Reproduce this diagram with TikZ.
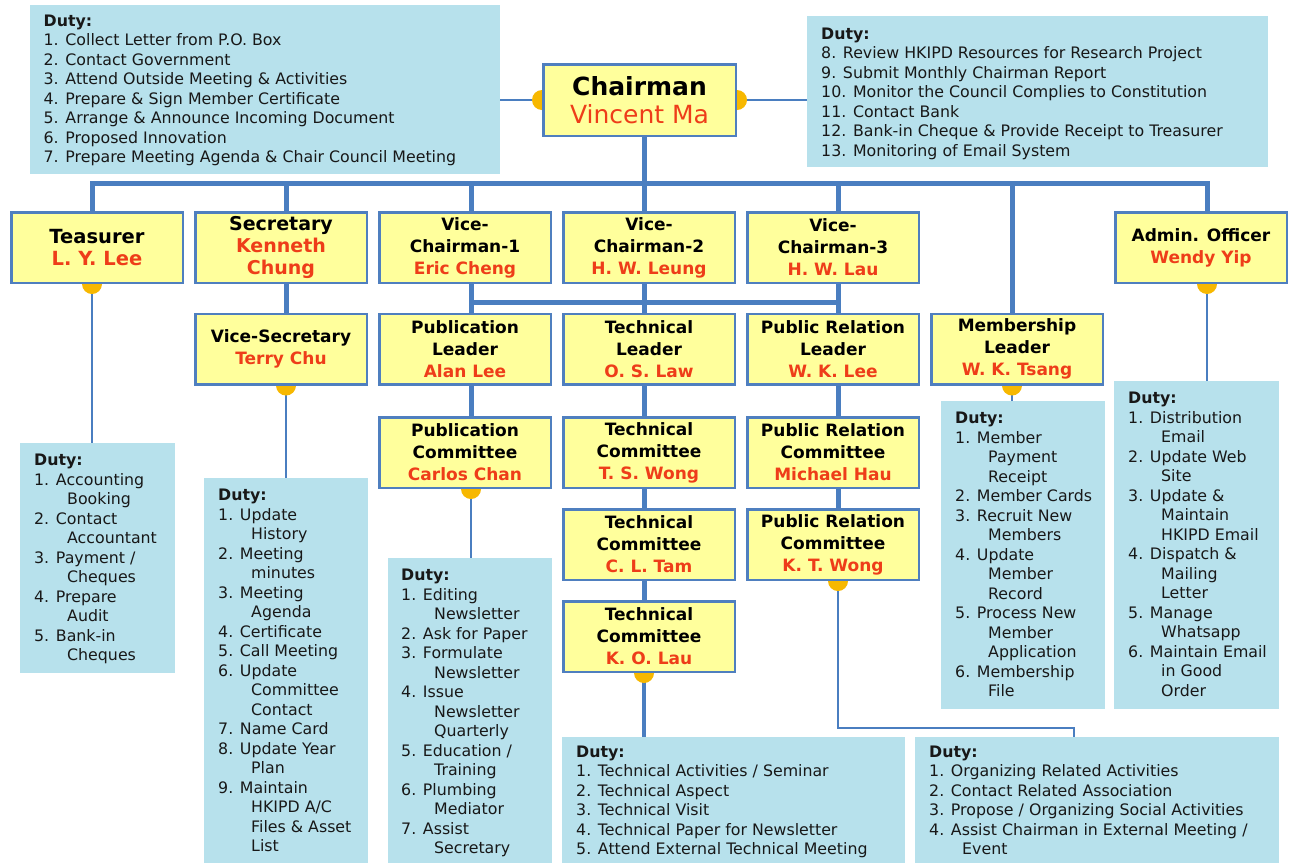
\documentclass[tikz,border=0pt]{standalone}
\usepackage{fontspec}
\setmainfont{DejaVu Sans}
\usetikzlibrary{calc}
\pgfdeclarelayer{bg}
\pgfdeclarelayer{bgwhite}
\pgfsetlayers{bgwhite,bg,main}
\definecolor{boxyel}{HTML}{FFFF9C}
\definecolor{boxbl}{HTML}{4F7FBF}
\definecolor{lnbl}{HTML}{4A7EC0}
\definecolor{dotor}{HTML}{F7B800}
\definecolor{nmred}{HTML}{EE3D19}
\definecolor{dutybg}{HTML}{B7E1EC}
\definecolor{dtxt}{HTML}{181818}
\newcommand\ci{\hspace*{33pt}}
\newcommand\nm[1]{\textcolor{nmred}{#1}}
\begin{document}
\begin{tikzpicture}[x=1pt,y=-1pt,
 role/.style={draw=boxbl, line width=2.5pt, fill=boxyel, minimum width=171.5pt, minimum height=70.5pt, inner sep=0pt, align=center, font=\fontsize{17}{22}\selectfont\bfseries},
 bigrole/.style={role, font=\fontsize{19.5}{22.5}\selectfont\bfseries},
 dbox/.style={fill=dutybg, draw=none, inner sep=0pt, anchor=north west},
 dtext/.style={anchor=north west, inner sep=0pt, align=left, text=dtxt, font=\fontsize{15.8}{19.5}\selectfont},
 thk/.style={draw=lnbl, line width=5pt, line cap=rect},
 thn/.style={draw=lnbl, line width=2pt},
 dot/.style={fill=dotor}]
\useasboundingbox (0,0) rectangle (1290,863);
\begin{pgfonlayer}{bgwhite}
\fill[white] (0,0) rectangle (1290,863);
\end{pgfonlayer}

% chairman
\node[role, minimum width=192.5pt, minimum height=71.5pt, font=\fontsize{25}{28}\selectfont] (chair) at (639.5,100) {\textbf{Chairman}\\\nm{Vincent Ma}};

% row 1
\node[bigrole] (tea) at (97,247.5) {Teasurer\\\nm{L. Y. Lee}};
\node[bigrole, font=\fontsize{19}{22}\selectfont\bfseries] (sec) at (281,247.5) {Secretary\\\nm{Kenneth}\\\nm{Chung}};
\node[role] (vc1) at (465,247.5) {Vice-\\Chairman-1\\\nm{Eric Cheng}};
\node[role] (vc2) at (649,247.5) {Vice-\\Chairman-2\\\nm{H. W. Leung}};
\node[role] (vc3) at (833,247.5) {Vice-\\Chairman-3\\\nm{H. W. Lau}};
\node[role] (adm) at (1201,247.5) {Admin. Officer\\\nm{Wendy Yip}};
% row 2
\node[role] (vsec) at (281,349) {Vice-Secretary\\\nm{Terry Chu}};
\node[role] (publ) at (465,349) {Publication\\Leader\\\nm{Alan Lee}};
\node[role] (techl) at (649,349) {Technical\\Leader\\\nm{O. S. Law}};
\node[role] (prl) at (833,349) {Public Relation\\Leader\\\nm{W. K. Lee}};
\node[role] (meml) at (1017,349) {Membership\\Leader\\\nm{W. K. Tsang}};
% row 3
\node[role] (pubc) at (465,452.5) {Publication\\Committee\\\nm{Carlos Chan}};
\node[role] (tc1) at (649,452.5) {Technical\\Committee\\\nm{T. S. Wong}};
\node[role] (prc1) at (833,452.5) {Public Relation\\Committee\\\nm{Michael Hau}};
% row 4
\node[role] (tc2) at (649,544.5) {Technical\\Committee\\\nm{C. L. Tam}};
\node[role] (prc2) at (833,544.5) {Public Relation\\Committee\\\nm{K. T. Wong}};
% row 5
\node[role] (tc3) at (649,636.5) {Technical\\Committee\\\nm{K. O. Lau}};

% duty boxes
\node[dbox, minimum width=470pt, minimum height=169pt] (dTL) at (30,5) {};
\node[dtext] (dTLt) at ([shift={(13.5,9.5)}]dTL.north west) {\textbf{Duty:}\\1. Collect Letter from P.O. Box\\2. Contact Government\\3. Attend Outside Meeting \& Activities\\4. Prepare \& Sign Member Certificate\\5. Arrange \& Announce Incoming Document\\6. Proposed Innovation\\7. Prepare Meeting Agenda \& Chair Council Meeting};

\node[dbox, minimum width=461pt, minimum height=151pt] (dTR) at (807,16) {};
\node[dtext] (dTRt) at ([shift={(14,11.5)}]dTR.north west) {\textbf{Duty:}\\8. Review HKIPD Resources for Research Project\\9. Submit Monthly Chairman Report\\10. Monitor the Council Complies to Constitution\\11. Contact Bank\\12. Bank-in Cheque \& Provide Receipt to Treasurer\\13. Monitoring of Email System};

\node[dbox, minimum width=155pt, minimum height=230pt] (dTea) at (20,443) {};
\node[dtext] (dTeat) at ([shift={(14,11)}]dTea.north west) {\textbf{Duty:}\\1. Accounting\\\ci Booking\\2. Contact\\\ci Accountant\\3. Payment /\\\ci Cheques\\4. Prepare\\\ci Audit\\5. Bank-in\\\ci Cheques};

\node[dbox, minimum width=164pt, minimum height=385pt] (dSec) at (204,478) {};
\node[dtext] (dSect) at ([shift={(14,11)}]dSec.north west) {\textbf{Duty:}\\1. Update\\\ci History\\2. Meeting\\\ci minutes\\3. Meeting\\\ci Agenda\\4. Certificate\\5. Call Meeting\\6. Update\\\ci Committee\\\ci Contact\\7. Name Card\\8. Update Year\\\ci Plan\\9. Maintain\\\ci HKIPD A/C\\\ci Files \& Asset\\\ci List};

\node[dbox, minimum width=164pt, minimum height=305pt] (dPub) at (388,558) {};
\node[dtext] (dPubt) at ([shift={(13,11)}]dPub.north west) {\textbf{Duty:}\\1. Editing\\\ci Newsletter\\2. Ask for Paper\\3. Formulate\\\ci Newsletter\\4. Issue\\\ci Newsletter\\\ci Quarterly\\5. Education /\\\ci Training\\6. Plumbing\\\ci Mediator\\7. Assist\\\ci Secretary};

\node[dbox, minimum width=343pt, minimum height=126pt] (dTech) at (562,737) {};
\node[dtext] (dTecht) at ([shift={(14,8.5)}]dTech.north west) {\textbf{Duty:}\\1. Technical Activities / Seminar\\2. Technical Aspect\\3. Technical Visit\\4. Technical Paper for Newsletter\\5. Attend External Technical Meeting};

\node[dbox, minimum width=364pt, minimum height=126pt] (dPR) at (915,737) {};
\node[dtext] (dPRt) at ([shift={(14,8.5)}]dPR.north west) {\textbf{Duty:}\\1. Organizing Related Activities\\2. Contact Related Association\\3. Propose / Organizing Social Activities\\4. Assist Chairman in External Meeting /\\\ci Event};

\node[dbox, minimum width=164pt, minimum height=308pt] (dMem) at (941,401) {};
\node[dtext] (dMemt) at ([shift={(14,11)}]dMem.north west) {\textbf{Duty:}\\1. Member\\\ci Payment\\\ci Receipt\\2. Member Cards\\3. Recruit New\\\ci Members\\4. Update\\\ci Member\\\ci Record\\5. Process New\\\ci Member\\\ci Application\\6. Membership\\\ci File};

\node[dbox, minimum width=165pt, minimum height=328pt] (dAdm) at (1114,381) {};
\node[dtext] (dAdmt) at ([shift={(14,11)}]dAdm.north west) {\textbf{Duty:}\\1. Distribution\\\ci Email\\2. Update Web\\\ci Site\\3. Update \&\\\ci Maintain\\\ci HKIPD Email\\4. Dispatch \&\\\ci Mailing\\\ci Letter\\5. Manage\\\ci Whatsapp\\6. Maintain Email\\\ci in Good\\\ci Order};

% connector coordinates
\coordinate (cx) at (644,183);
\coordinate (k1) at (92,183);
\coordinate (k2) at (286,183);
\coordinate (k3) at (471,183);
\coordinate (k4) at (644,183);
\coordinate (k5) at (838,183);
\coordinate (k6) at (1012,183);
\coordinate (k7) at (1207,183);
\coordinate (b3) at (471,302);
\coordinate (b5) at (838,302);
\coordinate (prc) at (1074,728);

\begin{pgfonlayer}{bg}
\draw[thk] (k1) -- (k7);
\draw[thk] (chair.south -| cx) -- (cx);
\draw[thk] (k1) -- (k1 |- tea.north);
\draw[thk] (k2) -- (k2 |- sec.north);
\draw[thk] (k3) -- (k3 |- vc1.north);
\draw[thk] (k4) -- (k4 |- vc2.north);
\draw[thk] (k5) -- (k5 |- vc3.north);
\draw[thk] (k6) -- (k6 |- meml.north);
\draw[thk] (k7) -- (k7 |- adm.north);
\draw[thk] (k2 |- sec.south) -- (k2 |- vsec.north);
\draw[thk] (b3) -- (b5);
\draw[thk] (k3 |- vc1.south) -- (k3 |- publ.north);
\draw[thk] (k4 |- vc2.south) -- (k4 |- techl.north);
\draw[thk] (k5 |- vc3.south) -- (k5 |- prl.north);
\draw[thk] (k3 |- publ.south) -- (k3 |- pubc.north);
\draw[thk] (k4 |- techl.south) -- (k4 |- tc1.north);
\draw[thk] (k4 |- tc1.south) -- (k4 |- tc2.north);
\draw[thk] (k4 |- tc2.south) -- (k4 |- tc3.north);
\draw[thk] (k5 |- prl.south) -- (k5 |- prc1.north);
\draw[thk] (k5 |- prc1.south) -- (k5 |- prc2.north);
\draw[thn] (chair.west) -- (dTL.east |- chair.west);
\draw[thn] (chair.east) -- (dTR.west |- chair.east);
\draw[thn] (k1 |- tea.south) -- (k1 |- dTea.north);
\draw[thn] (k2 |- vsec.south) -- (k2 |- dSec.north);
\draw[thn] (k3 |- pubc.south) -- (k3 |- dPub.north);
\draw[draw=lnbl, line width=3.5pt] (k4 |- tc3.south) -- (k4 |- dTech.north);
\draw[thn] (k5 |- prc2.south) |- (prc) -- (prc |- dPR.north);
\draw[thn] (k6 |- meml.south) -- (k6 |- dMem.north);
\draw[thn] (k7 |- adm.south) -- (k7 |- dAdm.north);
\fill[dot] (chair.west) circle[radius=10pt];
\fill[dot] (chair.east) circle[radius=10pt];
\fill[dot] (k1 |- tea.south) circle[radius=10pt];
\fill[dot] (k2 |- vsec.south) circle[radius=10pt];
\fill[dot] (k3 |- pubc.south) circle[radius=10pt];
\fill[dot] (k4 |- tc3.south) circle[radius=10pt];
\fill[dot] (k5 |- prc2.south) circle[radius=10pt];
\fill[dot] (k6 |- meml.south) circle[radius=10pt];
\fill[dot] (k7 |- adm.south) circle[radius=10pt];
\end{pgfonlayer}
\end{tikzpicture}
\end{document}
